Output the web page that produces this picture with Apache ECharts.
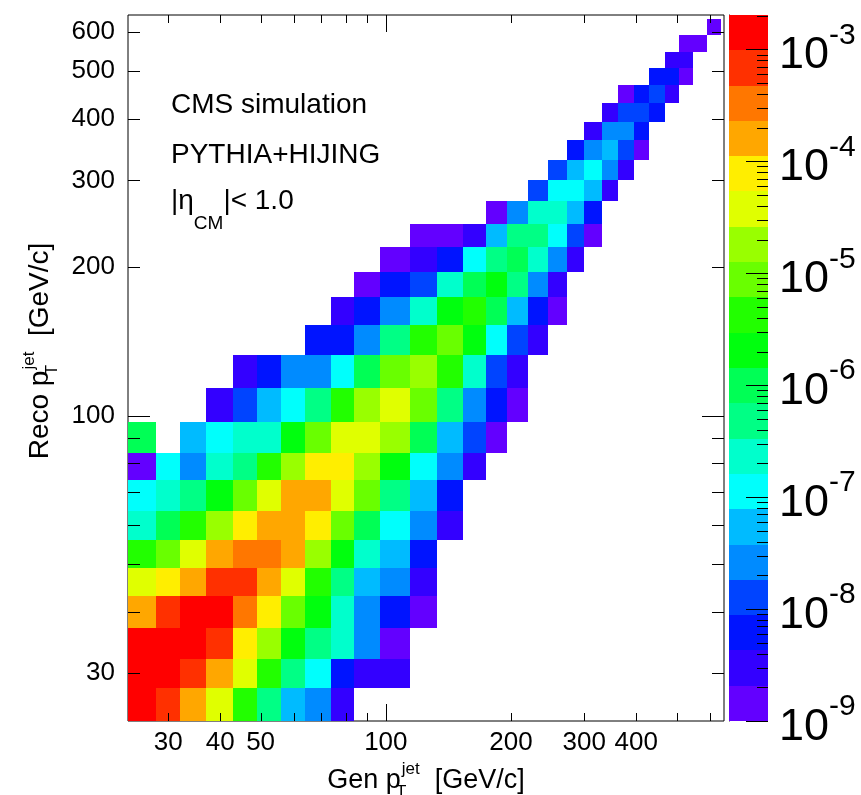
<!DOCTYPE html>
<html><head><meta charset="utf-8">
<script src="https://cdn.jsdelivr.net/npm/echarts@6/dist/echarts.min.js"></script>
<style>html,body{margin:0;padding:0;background:#fff}#c{width:861px;height:795px}</style>
</head><body><div id="c"></div>
<script>
// ---- data ----
const ptBinEdges = [24,28,32,37,43,49,56,64,74,84,97,114,133,153,174,196,220,245,272,300,330,362,395,430,468,507,548,592,638];
// first Gen-pT bin index that is filled, for every Reco-pT bin (row)
const rowStartBin = [0,0,0,0,0,0,0,0,0,0,3,4,7,8,9,10,11,14,16,17,18,19,20,21,23,24,25,27];
// bin contents per Reco-pT row, left to right from rowStartBin
const rowValues = [
  [1.4e-3,6.7e-4,1.6e-4,3.7e-5,4.2e-6,4.8e-7,5.4e-8,2.6e-8,3.0e-9],
  [1.4e-3,1.4e-3,6.7e-4,1.6e-4,3.7e-5,4.2e-6,4.8e-7,1.1e-7,6.1e-9,3.0e-9,3.0e-9],
  [1.4e-3,1.4e-3,1.4e-3,6.7e-4,7.6e-5,1.8e-5,2.0e-6,4.8e-7,2.3e-7,2.6e-8,1.4e-9],
  [1.6e-4,6.7e-4,1.4e-3,1.4e-3,3.3e-4,7.6e-5,8.7e-6,2.0e-6,2.3e-7,2.6e-8,6.1e-9,1.4e-9],
  [3.7e-5,7.6e-5,1.6e-4,6.7e-4,6.7e-4,1.6e-4,3.7e-5,4.2e-6,4.8e-7,5.4e-8,2.6e-8,3.0e-9],
  [4.2e-6,8.7e-6,3.7e-5,1.6e-4,3.3e-4,3.3e-4,1.6e-4,1.8e-5,2.0e-6,2.3e-7,5.4e-8,6.1e-9],
  [2.3e-7,9.8e-7,4.2e-6,1.8e-5,7.6e-5,1.6e-4,1.6e-4,7.6e-5,8.7e-6,9.8e-7,1.1e-7,2.6e-8,3.0e-9],
  [1.1e-7,2.3e-7,4.8e-7,2.0e-6,8.7e-6,3.7e-5,1.6e-4,1.6e-4,3.7e-5,8.7e-6,4.8e-7,5.4e-8,6.1e-9],
  [1.4e-9,1.1e-7,2.6e-8,2.3e-7,4.8e-7,4.2e-6,1.8e-5,7.6e-5,7.6e-5,1.8e-5,2.0e-6,1.1e-7,2.6e-8,3.0e-9],
  [9.8e-7,null,5.4e-8,1.1e-7,2.3e-7,2.3e-7,2.0e-6,8.7e-6,3.7e-5,3.7e-5,1.8e-5,9.8e-7,5.4e-8,1.3e-8,1.4e-9],
  [3.0e-9,1.3e-8,5.4e-8,1.1e-7,4.8e-7,4.2e-6,1.8e-5,3.7e-5,8.7e-6,4.8e-7,2.6e-8,6.1e-9,1.4e-9],
  [3.0e-9,6.1e-9,2.6e-8,2.6e-8,1.1e-7,9.8e-7,8.7e-6,1.8e-5,4.2e-6,2.3e-7,1.3e-8,3.0e-9],
  [6.1e-9,6.1e-9,2.6e-8,4.8e-7,4.2e-6,8.7e-6,2.0e-6,1.1e-7,1.3e-8,3.0e-9],
  [3.0e-9,6.1e-9,2.6e-8,2.3e-7,2.0e-6,4.2e-6,9.8e-7,5.4e-8,6.1e-9,1.4e-9],
  [1.4e-9,6.1e-9,1.3e-8,2.3e-7,9.8e-7,2.0e-6,4.8e-7,2.6e-8,3.0e-9],
  [1.4e-9,3.0e-9,6.1e-9,1.1e-7,4.8e-7,9.8e-7,2.3e-7,2.6e-8,3.0e-9],
  [1.4e-9,1.4e-9,3.0e-9,5.4e-8,4.8e-7,4.8e-7,1.1e-7,1.3e-8,1.4e-9],
  [1.4e-9,2.6e-8,2.3e-7,2.3e-7,5.4e-8,6.1e-9],
  [1.3e-8,1.1e-7,1.1e-7,5.4e-8,3.0e-9],
  [1.3e-8,5.4e-8,1.1e-7,2.6e-8,3.0e-9],
  [6.1e-9,2.6e-8,5.4e-8,1.3e-8,1.4e-9],
  [3.0e-9,2.6e-8,2.6e-8,6.1e-9],
  [3.0e-9,1.3e-8,1.3e-8,6.1e-9],
  [1.4e-9,6.1e-9,1.3e-8,3.0e-9],
  [6.1e-9,6.1e-9,1.4e-9],
  [3.0e-9,3.0e-9],
  [1.4e-9,1.4e-9],
  [1.4e-9]
];
const xTickLabels = [30,40,50,100,200,300,400];
const yTickLabels = [30,100,200,300,400,500,600];
const frameTickValues = [30,40,50,60,70,80,90,100,200,300,400,500,600];
const colorbarMajorTicks = [1e-9,1e-8,1e-7,1e-6,1e-5,1e-4,1e-3];
const colorbarMinorMultipliers = [2,3,4,5,6,7,8,9];

// ---- axis ranges & style ----
const X_MIN = 24, X_MAX = 650, Y_MIN = 24, Y_MAX = 650;
const Z_MIN = 1e-9, Z_MAX = 2.03e-3;
const palette = ['#6300ff','#3300ff','#0014ff','#0044ff','#008bff','#00bbff','#00fffc','#00ffcc','#00ff85','#00ff55',
                 '#00ff0e','#22ff00','#69ff00','#99ff00','#e0ff00','#ffee00','#ffa700','#ff7700','#ff3000','#ff0000'];
const FONT = '"Liberation Sans", Arial, Helvetica, sans-serif';
const nBands = palette.length;
const dLog = (Math.log10(Z_MAX) - Math.log10(Z_MIN)) / nBands;
function bandOf(v) {
  const k = Math.floor((Math.log10(v) - Math.log10(Z_MIN)) / dLog);
  return Math.max(0, Math.min(nBands - 1, k));
}

const cells = [];
rowValues.forEach((vals, r) => {
  vals.forEach((v, j) => {
    if (v == null) return;
    const i = rowStartBin[r] + j;
    cells.push([ptBinEdges[i], ptBinEdges[i + 1], ptBinEdges[r], ptBinEdges[r + 1], v]);
  });
});
const bands = palette.map((c, k) => [0, 1, Z_MIN * Math.pow(10, k * dLog), Z_MIN * Math.pow(10, (k + 1) * dLog), k]);
const cbTicks = [];
colorbarMajorTicks.forEach(d => {
  cbTicks.push([1, d, 1]);
  colorbarMinorMultipliers.forEach(m => { if (m * d <= Z_MAX) cbTicks.push([1, m * d, 0]); });
});

const tickStyle = { stroke: '#000', lineWidth: 1 };
function titleRich(fs) {
  return {
    n: { fontSize: fs, lineHeight: 40, fontFamily: FONT, color: '#000', verticalAlign: 'middle' },
    t: { fontSize: 17, lineHeight: 16, fontFamily: FONT, color: '#000', verticalAlign: 'bottom', width: 1 },
    j: { fontSize: 17, lineHeight: 16, fontFamily: FONT, color: '#000', verticalAlign: 'top' }
  };
}

const chart = echarts.init(document.getElementById('c'), null, { renderer: 'canvas', width: 861, height: 795 });
chart.setOption({
  animation: false,
  backgroundColor: '#fff',
  grid: [
    { left: 128, top: 15, width: 596, height: 706, show: true, borderColor: '#000', borderWidth: 1,
      backgroundColor: 'transparent', containLabel: false, outerBoundsMode: 'none' },
    { left: 729, top: 15, width: 39, height: 706, show: false, containLabel: false, outerBoundsMode: 'none' }
  ],
  xAxis: [
    {
      type: 'log', logBase: 10, min: X_MIN, max: X_MAX, gridIndex: 0,
      axisLine: { show: false }, axisTick: { show: false }, splitLine: { show: false }, minorTick: { show: false },
      axisLabel: { customValues: xTickLabels, fontSize: 26, fontFamily: FONT, color: '#000', margin: 9 },
      name: '{n|Gen p}{t|T}{j|jet}{n|  [GeV/c]}', nameLocation: 'middle', nameGap: 23,
      nameTextStyle: { rich: titleRich(27) }
    },
    { type: 'value', min: 0, max: 1, gridIndex: 1, show: false }
  ],
  yAxis: [
    {
      type: 'log', logBase: 10, min: Y_MIN, max: Y_MAX, gridIndex: 0,
      axisLine: { show: false }, axisTick: { show: false }, splitLine: { show: false }, minorTick: { show: false },
      axisLabel: { customValues: yTickLabels, fontSize: 26, fontFamily: FONT, color: '#000', margin: 13 },
      name: '{n|Reco p}{t|T}{j|jet}{n|  [GeV/c]}', nameLocation: 'middle', nameGap: 66, nameRotate: 90,
      nameTextStyle: { rich: titleRich(28), padding: [0, 0, 0, 34] }
    },
    {
      type: 'log', logBase: 10, min: Z_MIN, max: Z_MAX, gridIndex: 1, position: 'right',
      axisLine: { show: true, lineStyle: { color: '#000', width: 1 } },
      axisTick: { show: false }, splitLine: { show: false }, minorTick: { show: false },
      axisLabel: {
        customValues: colorbarMajorTicks, margin: 11,
        formatter: v => '{n|10}{e|' + Math.round(Math.log10(v)) + '}{z| }',
        rich: {
          n: { fontSize: 45, lineHeight: 46, fontFamily: FONT, color: '#000', verticalAlign: 'bottom' },
          e: { fontSize: 30, lineHeight: 44, fontFamily: FONT, color: '#000', verticalAlign: 'top' },
          z: { fontSize: 1, lineHeight: 58, verticalAlign: 'middle' }
        }
      }
    }
  ],
  series: [
    {
      name: 'response', type: 'custom', xAxisIndex: 0, yAxisIndex: 0, data: cells,
      encode: { x: [0, 1], y: [2, 3] }, silent: true,
      renderItem(params, api) {
        const a = api.coord([api.value(0), api.value(2)]);
        const b = api.coord([api.value(1), api.value(3)]);
        const x0 = Math.round(a[0]), x1 = Math.round(b[0]), y0 = Math.round(b[1]), y1 = Math.round(a[1]);
        return { type: 'rect', shape: { x: x0, y: y0, width: x1 - x0, height: y1 - y0 }, style: { fill: palette[bandOf(api.value(4))] } };
      }
    },
    {
      name: 'xTicks', type: 'custom', xAxisIndex: 0, yAxisIndex: 0, silent: true,
      data: frameTickValues.map(v => [v, Y_MIN]), encode: { x: 0, y: 1 },
      renderItem(params, api) {
        const v = api.value(0);
        const bot = api.coord([v, Y_MIN]), top = api.coord([v, Y_MAX]);
        const L = v === 100 ? 17 : 8;
        const x = Math.round(bot[0]) + 0.5;
        return { type: 'group', children: [
          { type: 'line', shape: { x1: x, y1: bot[1], x2: x, y2: bot[1] - L }, style: tickStyle },
          { type: 'line', shape: { x1: x, y1: top[1], x2: x, y2: top[1] + L }, style: tickStyle }
        ] };
      }
    },
    {
      name: 'yTicks', type: 'custom', xAxisIndex: 0, yAxisIndex: 0, silent: true,
      data: frameTickValues.map(v => [X_MIN, v]), encode: { x: 0, y: 1 },
      renderItem(params, api) {
        const v = api.value(1);
        const l = api.coord([X_MIN, v]), r = api.coord([X_MAX, v]);
        const L = v === 100 ? 22 : 12;
        const y = Math.round(l[1]) + 0.5;
        return { type: 'group', children: [
          { type: 'line', shape: { x1: l[0], y1: y, x2: l[0] + L, y2: y }, style: tickStyle },
          { type: 'line', shape: { x1: r[0], y1: y, x2: r[0] - L, y2: y }, style: tickStyle }
        ] };
      }
    },
    {
      name: 'colorbar', type: 'custom', xAxisIndex: 1, yAxisIndex: 1, silent: true,
      data: bands, encode: { x: [0, 1], y: [2, 3] },
      renderItem(params, api) {
        const a = api.coord([api.value(0), api.value(2)]);
        const b = api.coord([api.value(1), api.value(3)]);
        const y0 = Math.round(b[1]), y1 = Math.round(a[1]);
        return { type: 'rect', shape: { x: a[0], y: y0, width: b[0] - a[0], height: y1 - y0 }, style: { fill: palette[api.value(4)] } };
      }
    },
    {
      name: 'colorbarTicks', type: 'custom', xAxisIndex: 1, yAxisIndex: 1, silent: true,
      data: cbTicks, encode: { x: 0, y: 1 },
      renderItem(params, api) {
        const p = api.coord([1, api.value(1)]);
        const L = api.value(2) ? 22 : 11;
        const y = Math.round(p[1]) + 0.5;
        return { type: 'line', shape: { x1: p[0], y1: y, x2: p[0] - L, y2: y }, style: tickStyle };
      }
    }
  ],
  graphic: [
    { type: 'text', x: 171, y: 105.3, silent: true,
      style: { text: 'CMS simulation', fontSize: 28, fontFamily: FONT, fill: '#000', align: 'left', verticalAlign: 'middle' } },
    { type: 'text', x: 171, y: 155.3, silent: true,
      style: { text: 'PYTHIA+HIJING', fontSize: 28, fontFamily: FONT, fill: '#000', align: 'left', verticalAlign: 'middle' } },
    { type: 'text', x: 171, y: 187.3, silent: true,
      style: { text: '{n||\u03b7}{s|CM}{n||< 1.0}', align: 'left', verticalAlign: 'top',
        rich: {
          n: { fontSize: 28, lineHeight: 34, fontFamily: FONT, fill: '#000', verticalAlign: 'top' },
          s: { fontSize: 19, lineHeight: 19, padding: [27, 0, 0, 0], fontFamily: FONT, fill: '#000', verticalAlign: 'top' }
        } } }
  ]
});
</script>
</body></html>
